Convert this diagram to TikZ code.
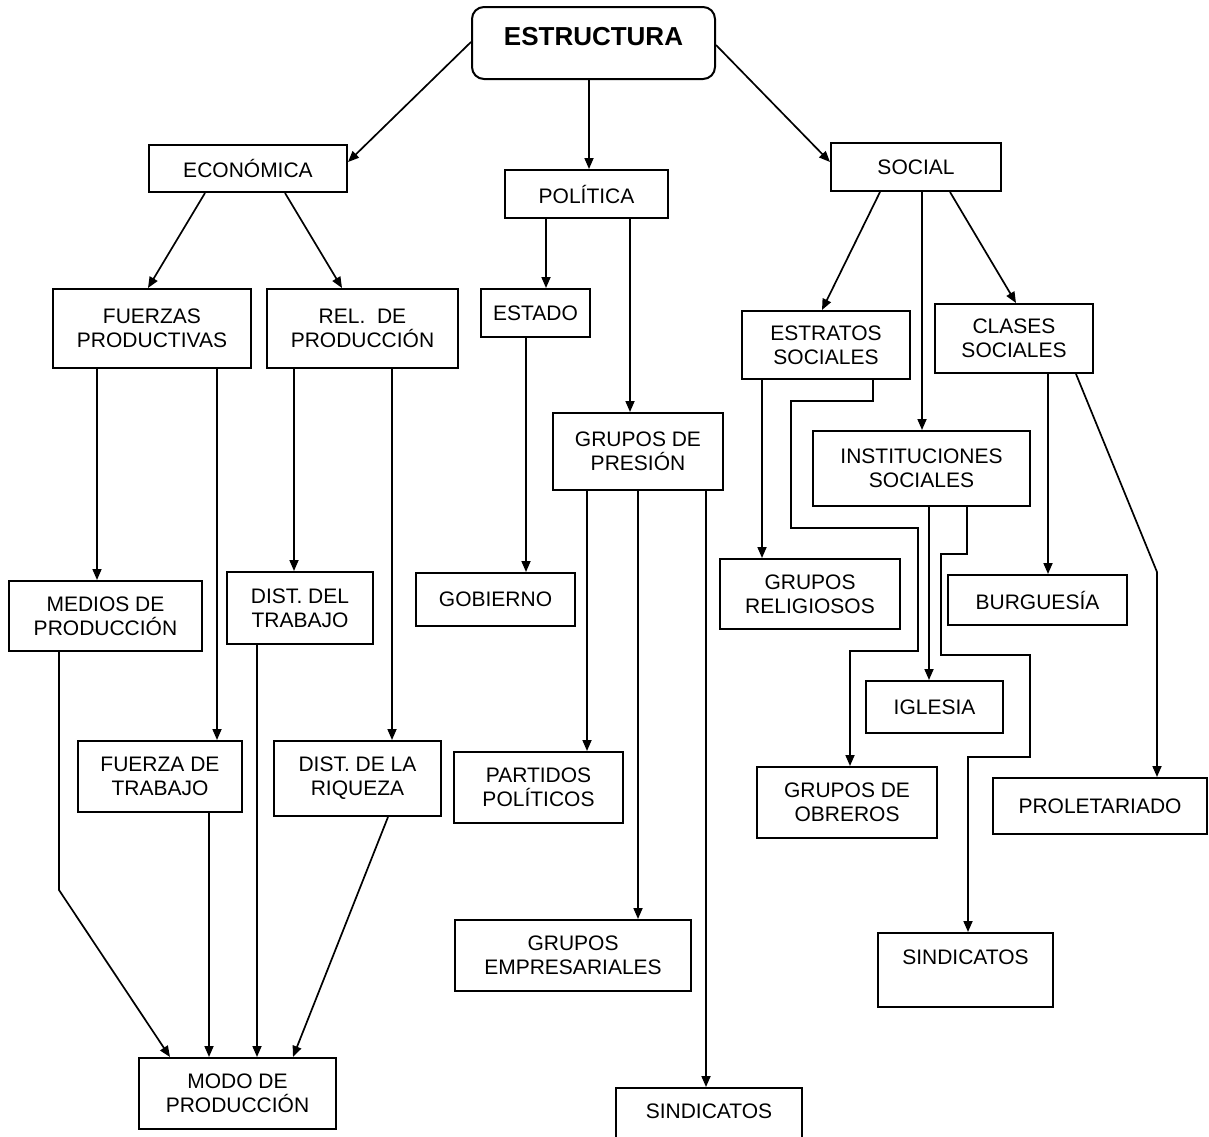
\documentclass[tikz,border=0pt]{standalone}
\usepackage{fontspec}
\setmainfont{Liberation Sans}
\usetikzlibrary{arrows.meta}
\tikzset{
  box/.style={draw, line width=2pt, fill=white, align=center, inner sep=0pt,
    font=\fontsize{21pt}{24pt}\selectfont},
  lbl/.style={inner sep=0pt, align=center, font=\fontsize{21pt}{24pt}\selectfont},
  arr/.style={line width=1.7pt, -{Triangle[length=11pt,width=9pt]}},
}
\begin{document}
\begin{tikzpicture}[x=1pt,y=-1pt]
\useasboundingbox (0,0) rectangle (1209,1136);
\fill[white] (0,0) rectangle (1209,1136);
\clip (0,0) rectangle (1209,1136);
% nodes
\node[box, rounded corners=12pt, minimum width=243pt, minimum height=72pt] (est) at (593.5,43) {};
\node[lbl, font=\fontsize{26pt}{28pt}\selectfont\bfseries] (estl) at (593.5,37) {ESTRUCTURA};
\node[box, minimum width=198pt, minimum height=47pt] (econ) at (248,168.5) {ECONÓMICA};
\node[box, minimum width=163pt, minimum height=48pt] (pol) at (586.5,194) {POLÍTICA};
\node[box, minimum width=170pt, minimum height=48pt] (soc) at (916,167) {SOCIAL};
\node[box, minimum width=198pt, minimum height=79pt] (fp) at (152,328.5) {FUERZAS\\PRODUCTIVAS};
\node[box, minimum width=191pt, minimum height=79pt] (rel) at (362.5,328.5) {REL.\ \ DE\\PRODUCCIÓN};
\node[box, minimum width=109pt, minimum height=48pt] (esta) at (535.5,313) {ESTADO};
\node[box, minimum width=168pt, minimum height=68pt] (estr) at (826,345) {ESTRATOS\\SOCIALES};
\node[box, minimum width=158pt, minimum height=69pt] (cla) at (1014,338.5) {CLASES\\SOCIALES};
\node[box, minimum width=170pt, minimum height=77pt] (gp) at (638,451.5) {GRUPOS DE\\PRESIÓN};
\node[box, minimum width=217pt, minimum height=75pt] (inst) at (921.5,468.5) {INSTITUCIONES\\SOCIALES};
\node[box, minimum width=193pt, minimum height=70pt] (med) at (105.5,616) {MEDIOS DE\\PRODUCCIÓN};
\node[box, minimum width=146pt, minimum height=72pt] (dt) at (300,608) {DIST. DEL\\TRABAJO};
\node[box, minimum width=159pt, minimum height=53pt] (gob) at (495.5,599.5) {GOBIERNO};
\node[box, minimum width=180pt, minimum height=70pt] (rlg) at (810,594) {GRUPOS\\RELIGIOSOS};
\node[box, minimum width=179pt, minimum height=50pt] (bur) at (1037.5,600) {BURGUESÍA};
\node[box, minimum width=137pt, minimum height=52pt] (igl) at (934.5,707) {IGLESIA};
\node[box, minimum width=164pt, minimum height=71pt] (ft) at (160,776.5) {FUERZA DE\\TRABAJO};
\node[box, minimum width=167pt, minimum height=75pt] (dr) at (357.5,778.5) {DIST. DE LA\\RIQUEZA};
\node[box, minimum width=169pt, minimum height=71pt] (pp) at (538.5,787.5) {PARTIDOS\\POLÍTICOS};
\node[box, minimum width=180pt, minimum height=71pt] (obr) at (847,802.5) {GRUPOS DE\\OBREROS};
\node[box, minimum width=214pt, minimum height=56pt] (pro) at (1100,806) {PROLETARIADO};
\node[box, minimum width=236pt, minimum height=71pt] (emp) at (573,955.5) {GRUPOS\\EMPRESARIALES};
\node[box, minimum width=175pt, minimum height=74pt] (sin2) at (965.5,970) {};
\node[lbl] (sin2l) at (965.5,957) {SINDICATOS};
\node[box, minimum width=197pt, minimum height=71pt] (modo) at (237.5,1093.5) {MODO DE\\PRODUCCIÓN};
\node[box, minimum width=186pt, minimum height=62pt] (sin1) at (709,1119) {};
\node[lbl] (sin1l) at (709,1111) {SINDICATOS};
% connectors
\draw[arr] (est.west |- 0,42) -- (econ.east |- 0,162);
\draw[arr] (est.south -| 589,0) -- (pol.north -| 589,0);
\draw[arr] (est.east |- 0,45) -- (soc.west |- 0,162);
\draw[arr] (econ.south -| 205,0) -- (fp.north -| 148,0);
\draw[arr] (econ.south -| 285,0) -- (rel.north -| 342,0);
\draw[arr] (pol.south -| 546,0) -- (esta.north -| 546,0);
\draw[arr] (pol.south -| 630,0) -- (gp.north -| 630,0);
\draw[arr] (soc.south -| 880,0) -- (estr.north -| 822,0);
\draw[arr] (soc.south -| 922,0) -- (inst.north -| 922,0);
\draw[arr] (soc.south -| 950,0) -- (cla.north -| 1016,0);
\draw[arr] (fp.south -| 97,0) -- (med.north -| 97,0);
\draw[arr] (fp.south -| 217,0) -- (ft.north -| 217,0);
\draw[arr] (rel.south -| 294,0) -- (dt.north -| 294,0);
\draw[arr] (rel.south -| 392,0) -- (dr.north -| 392,0);
\draw[arr] (esta.south -| 526,0) -- (gob.north -| 526,0);
\draw[arr] (gp.south -| 587,0) -- (pp.north -| 587,0);
\draw[arr] (gp.south -| 638,0) -- (emp.north -| 638,0);
\draw[arr] (gp.south -| 706,0) -- (sin1.north -| 706,0);
\draw[arr] (estr.south -| 762,0) -- (rlg.north -| 762,0);
\draw[arr] (estr.south -| 873,0) -- (873,401) -- (791,401) -- (791,528) -- (918,528) -- (918,651) -- (850,651) -- (obr.north -| 850,0);
\draw[arr] (inst.south -| 929,0) -- (igl.north -| 929,0);
\draw[arr] (inst.south -| 967,0) -- (967,554) -- (941,554) -- (941,655) -- (1030,655) -- (1030,757) -- (968,757) -- (sin2.north -| 968,0);
\draw[arr] (cla.south -| 1048,0) -- (bur.north -| 1048,0);
\draw[arr] (cla.south -| 1076,0) -- (1157,572) -- (pro.north -| 1157,0);
\draw[arr] (med.south -| 59,0) -- (59,890) -- (modo.north -| 170,0);
\draw[arr] (ft.south -| 209,0) -- (modo.north -| 209,0);
\draw[arr] (dt.south -| 257,0) -- (modo.north -| 257,0);
\draw[arr] (dr.south -| 388,0) -- (modo.north -| 293,0);
\end{tikzpicture}
\end{document}
